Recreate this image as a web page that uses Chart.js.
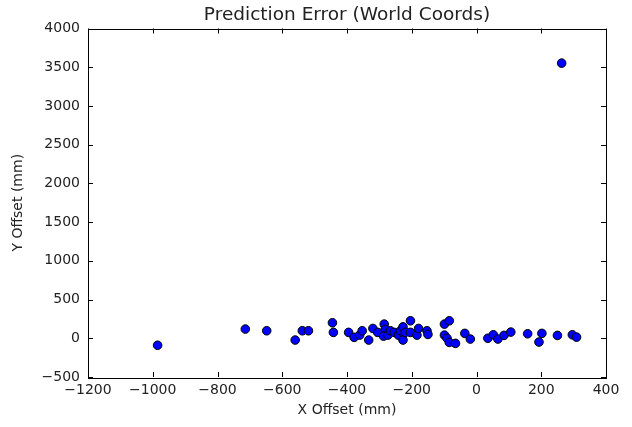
<!DOCTYPE html>
<html lang="en">
<head>
<meta charset="UTF-8">
<script src="https://cdn.jsdelivr.net/npm/chart.js@4.4.0/dist/chart.umd.min.js"></script>
<style>
  html, body { margin: 0; padding: 0; background: #fff; }
  #wrap { width: 632px; height: 427px; }
</style>
</head>
<body>
<div id="wrap"><canvas id="myChart" width="632" height="427"></canvas></div>
<script>
// prediction error points (mm)
var xOffset = [-985, 263, -714, -648, -560, -538, -519, -445, -442, -395,
  -378, -361, -353, -333, -320, -305, -285, -282, -287, -274,
  -266, -254, -241, -235, -227, -227, -220, -204, -204, -184,
  -179, -153, -150, -99, -84, -99, -91, -84, -65, -36,
  -19, 35, 52, 66, 85, 106, 158, 193, 202, 250,
  296, 309];
var yOffset = [-90, 3553, 119, 97, -23, 97, 97, 200, 76, 76,
  12, 41, 97, -23, 127, 76, 183, 115, 28, 41,
  97, 76, 41, 97, 148, -23, 76, 226, 76, 41,
  127, 97, 50, 183, 226, 41, 0, -53, -66, 63,
  -10, 0, 45, -10, 37, 80, 58, -49, 63, 37,
  45, 15];

var xTicks = [-1200, -1000, -800, -600, -400, -200, 0, 200, 400];
var yTicks = [-500, 0, 500, 1000, 1500, 2000, 2500, 3000, 3500, 4000];

var pts = xOffset.map(function(x, i) { return {x: x, y: yOffset[i]}; });

function fmt(v) { return String(v).replace('-', '\u2212'); }

// matplotlib-ish frame with inward ticks on every side
var frame = {
  id: 'frame',
  afterDatasetsDraw: function(chart) {
    var c = chart.ctx, a = chart.chartArea;
    var xs = chart.scales.x, ys = chart.scales.y, L = 5;
    c.save();
    c.strokeStyle = '#000';
    c.lineWidth = 1;
    c.beginPath();
    xTicks.forEach(function(t) {
      var px = Math.round(xs.getPixelForValue(t)) + 0.5;
      c.moveTo(px, a.bottom); c.lineTo(px, a.bottom - L);
      c.moveTo(px, a.top); c.lineTo(px, a.top + L);
    });
    yTicks.forEach(function(t) {
      var py = Math.round(ys.getPixelForValue(t)) + 0.5;
      c.moveTo(a.left, py); c.lineTo(a.left + L, py);
      c.moveTo(a.right, py); c.lineTo(a.right - L, py);
    });
    c.stroke();
    c.strokeRect(Math.round(a.left) + 0.5, Math.round(a.top) + 0.5,
      Math.round(a.right - a.left), Math.round(a.bottom - a.top));
    c.restore();
  }
};

var ctx = document.getElementById('myChart');
var myChart = new Chart(ctx, {
  type: 'scatter',
  data: {
    datasets: [{
      data: pts,
      backgroundColor: '#0000ff',
      borderColor: '#000',
      borderWidth: 1,
      pointRadius: 4.3,
      pointHoverRadius: 4.3
    }]
  },
  options: {
    responsive: false,
    animation: false,
    layout: { padding: { left: 0, right: 26, top: 0, bottom: 0 } },
    plugins: {
      legend: { display: false },
      tooltip: { enabled: false },
      title: {
        display: true,
        fullSize: false,
        text: 'Prediction Error (World Coords)',
        color: '#222',
        font: { family: 'DejaVu Sans', size: 18.5, weight: 'normal', lineHeight: 1 },
        padding: { top: 6, bottom: 4 }
      }
    },
    scales: {
      x: {
        type: 'linear',
        min: -1200, max: 400,
        afterBuildTicks: function(s) { s.ticks = xTicks.map(function(v) { return {value: v}; }); },
        afterFit: function(s) { s.height = 50; },
        grid: { display: false, drawTicks: false },
        border: { display: false },
        ticks: {
          color: '#222', padding: 5,
          font: { family: 'DejaVu Sans', size: 14 },
          maxRotation: 0,
          callback: function(v) { return fmt(v); }
        },
        title: {
          display: true, text: 'X Offset (mm)', color: '#222',
          font: { family: 'DejaVu Sans', size: 14 },
          padding: { top: 0, bottom: 8 }
        }
      },
      y: {
        type: 'linear',
        min: -500, max: 4000,
        afterBuildTicks: function(s) { s.ticks = yTicks.map(function(v) { return {value: v}; }); },
        afterFit: function(s) { s.width = 88; },
        grid: { display: false, drawTicks: false },
        border: { display: false },
        ticks: {
          color: '#222', padding: 8,
          font: { family: 'DejaVu Sans', size: 14 },
          callback: function(v) { return fmt(v); }
        },
        title: {
          display: true, text: 'Y Offset (mm)', color: '#222',
          font: { family: 'DejaVu Sans', size: 14 },
          padding: { top: 10, bottom: 0 }
        }
      }
    }
  },
  plugins: [frame]
});
</script>
</body>
</html>
